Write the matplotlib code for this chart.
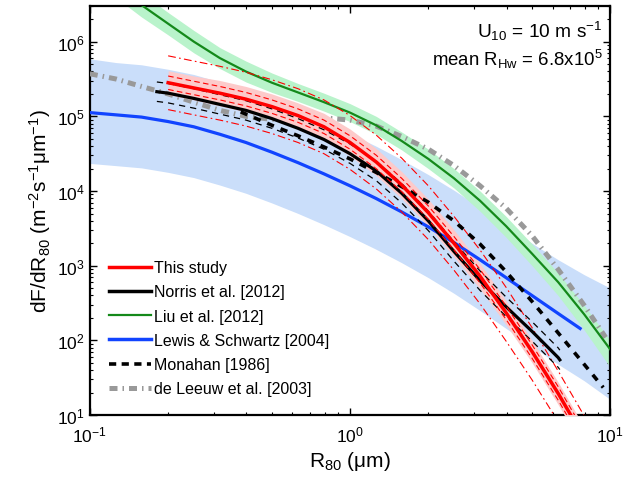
import numpy as np
import matplotlib
matplotlib.use("Agg")
import matplotlib.pyplot as plt
from matplotlib.lines import Line2D

plt.rcParams['font.family'] = ['Liberation Sans', 'DejaVu Sans']
plt.rcParams['mathtext.fontset'] = 'custom'
plt.rcParams['mathtext.rm'] = 'Liberation Sans'
plt.rcParams['mathtext.it'] = 'Liberation Sans:italic'
plt.rcParams['mathtext.default'] = 'regular'

# ---------------- data (values are log10 of dF/dR80, R80 in um) ----------------
# This study (red)
r_study = [0.2, 0.251, 0.316, 0.398, 0.501, 0.631, 0.794, 1.0, 1.26, 1.58, 2.0, 2.51, 3.16, 3.98, 5.01, 6.31, 7.94]
study = [5.45, 5.38, 5.31, 5.23, 5.13, 5.01, 4.86, 4.65, 4.39, 4.08, 3.71, 3.30, 2.86, 2.37, 1.85, 1.29, 0.69]
study_band_hi = [5.61, 5.54, 5.48, 5.40, 5.30, 5.18, 5.04, 4.83, 4.57, 4.26, 3.89, 3.48, 3.03, 2.53, 2.00, 1.44, 0.84]
study_band_lo = [5.29, 5.22, 5.14, 5.06, 4.96, 4.84, 4.69, 4.47, 4.21, 3.90, 3.53, 3.12, 2.69, 2.21, 1.70, 1.14, 0.54]
study_dash_hi = [5.54, 5.47, 5.40, 5.32, 5.22, 5.10, 4.95, 4.74, 4.48, 4.17, 3.80, 3.39, 2.95, 2.46, 1.94, 1.38, 0.78]
study_dash_lo = [5.36, 5.29, 5.22, 5.14, 5.04, 4.92, 4.77, 4.56, 4.30, 3.99, 3.62, 3.21, 2.77, 2.28, 1.76, 1.20, 0.60]
study_dd_hi = [5.81, 5.74, 5.67, 5.59, 5.49, 5.37, 5.22, 5.01, 4.75, 4.44, 4.07, 3.66, 3.21, 2.71, 2.17, 1.59, 0.99]
study_dd_lo = [5.09, 5.02, 4.95, 4.87, 4.77, 4.65, 4.50, 4.29, 4.03, 3.72, 3.35, 2.94, 2.49, 1.99, 1.47, 0.91, 0.31]

# Norris et al. [2012] (black)
r_norris = [0.181, 0.2, 0.251, 0.316, 0.398, 0.501, 0.631, 0.794, 1.0, 1.26, 1.58, 2.0, 2.51, 3.16, 3.98, 5.01, 6.31, 6.4]
norris = [5.33, 5.31, 5.24, 5.16, 5.08, 4.97, 4.84, 4.69, 4.50, 4.27, 3.97, 3.60, 3.19, 2.80, 2.45, 2.12, 1.77, 1.74]
norris_hi = [5.46, 5.44, 5.37, 5.29, 5.21, 5.10, 4.97, 4.82, 4.63, 4.40, 4.10, 3.73, 3.32, 2.93, 2.58, 2.25, 1.90, 1.87]
norris_lo = [5.20, 5.18, 5.11, 5.03, 4.95, 4.84, 4.71, 4.56, 4.37, 4.14, 3.84, 3.47, 3.06, 2.67, 2.32, 1.99, 1.64, 1.61]

# Liu et al. [2012] (green)
r_liu = [0.126, 0.158, 0.2, 0.251, 0.316, 0.398, 0.501, 0.631, 0.794, 1.0, 1.26, 1.58, 2.0, 2.51, 3.16, 3.98, 5.01, 6.31, 7.94, 10.0]
liu = [6.76, 6.49, 6.24, 6.00, 5.78, 5.60, 5.45, 5.32, 5.19, 5.05, 4.88, 4.67, 4.43, 4.17, 3.87, 3.53, 3.16, 2.78, 2.35, 1.88]
liu_hi = [6.93, 6.65, 6.39, 6.15, 5.92, 5.74, 5.58, 5.44, 5.31, 5.17, 5.00, 4.79, 4.56, 4.30, 4.00, 3.66, 3.29, 2.90, 2.47, 2.00]
liu_lo = [6.59, 6.33, 6.09, 5.85, 5.64, 5.46, 5.32, 5.20, 5.07, 4.93, 4.76, 4.55, 4.30, 4.04, 3.73, 3.38, 3.00, 2.60, 2.14, 1.64]

# Lewis & Schwartz [2004] (blue)
r_ls = [0.1, 0.126, 0.158, 0.2, 0.251, 0.316, 0.398, 0.501, 0.631, 0.794, 1.0, 1.26, 1.58, 2.0, 2.51, 3.16, 3.98, 5.01, 6.31, 7.66]
ls = [5.05, 5.02, 4.99, 4.93, 4.86, 4.76, 4.65, 4.52, 4.38, 4.23, 4.07, 3.90, 3.72, 3.52, 3.31, 3.08, 2.84, 2.60, 2.36, 2.16]
r_ls_band = [0.1, 0.126, 0.158, 0.2, 0.251, 0.316, 0.398, 0.501, 0.631, 0.794, 1.0, 1.26, 1.58, 2.0, 2.51, 3.16, 3.98, 5.01, 6.31, 7.94, 10.0]
ls_hi = [5.77, 5.72, 5.69, 5.63, 5.56, 5.46, 5.35, 5.22, 5.08, 4.93, 4.77, 4.60, 4.42, 4.22, 4.01, 3.78, 3.54, 3.30, 3.08, 2.88, 2.70]
ls_lo = [4.37, 4.34, 4.31, 4.25, 4.18, 4.08, 3.97, 3.84, 3.70, 3.55, 3.39, 3.22, 3.04, 2.84, 2.63, 2.40, 2.16, 1.92, 1.68, 1.46, 1.21]

# Monahan [1986] (black dashed)
r_mon = [0.38, 0.398, 0.501, 0.631, 0.794, 1.0, 1.26, 1.58, 2.0, 2.51, 3.16, 3.98, 5.01, 6.31, 7.94, 9.4]
mon = [5.06, 5.03, 4.88, 4.74, 4.59, 4.43, 4.25, 4.06, 3.85, 3.60, 3.29, 2.92, 2.52, 2.10, 1.68, 1.37]

# de Leeuw et al. [2003] (grey dash-dot)
r_dl = [0.1, 0.126, 0.158, 0.2, 0.251, 0.316, 0.398, 0.501, 0.631, 0.794, 1.0, 1.26, 1.58, 2.0, 2.51, 3.16, 3.98, 5.01, 6.31, 7.94, 9.6]
dl = [5.57, 5.50, 5.40, 5.30, 5.19, 5.08, 5.00, 4.96, 4.97, 4.98, 4.95, 4.87, 4.73, 4.56, 4.34, 4.07, 3.77, 3.40, 2.95, 2.47, 2.04]

labels = ['This study', 'Norris et al. [2012]', 'Liu et al. [2012]',
          'Lewis & Schwartz [2004]', 'Monahan [1986]', 'de Leeuw et al. [2003]']


def p(v):
    return 10.0 ** np.asarray(v)


fig = plt.figure(figsize=(6.37, 4.85), dpi=100)
ax = fig.add_axes([0.141, 0.142, 0.817, 0.844])

c_red = '#ff0000'
c_pink = '#fdcaca'
c_blue = '#1144ff'
c_lblue = '#cadefa'
c_green = '#14891a'
c_lgreen = '#b9f3cb'
c_grey = '#999999'
dd_grey = (1.6, 1.0, 0.3, 1.0)
dd_red = (7, 3, 1.5, 3)

ax.fill_between(r_ls_band, p(ls_lo), p(ls_hi), color=c_lblue, lw=0, zorder=1)
ax.fill_between(r_liu, p(liu_lo), p(liu_hi), color=c_lgreen, lw=0, zorder=2)
ax.plot(r_dl, p(dl), color=c_grey, lw=3.6, dashes=dd_grey, zorder=3)
ax.fill_between(r_study, p(study_band_lo), p(study_band_hi), color=c_pink, lw=0, zorder=4)

ax.plot(r_ls, p(ls), color=c_blue, lw=2.3, zorder=5)
ax.plot(r_liu, p(liu), color=c_green, lw=1.6, zorder=5)

ax.plot(r_study, p(study_dd_hi), color=c_red, lw=0.8, dashes=dd_red, zorder=6)
ax.plot(r_study, p(study_dd_lo), color=c_red, lw=0.8, dashes=dd_red, zorder=6)
ax.plot(r_norris, p(norris_hi), color='k', lw=0.9, dashes=(5, 4), zorder=6)
ax.plot(r_norris, p(norris_lo), color='k', lw=0.9, dashes=(5, 4), zorder=6)
ax.plot(r_mon, p(mon), color='k', lw=2.6, dashes=(2.0, 2.0), zorder=6)

ax.plot(r_norris, p(norris), color='k', lw=2.3, zorder=7)
ax.plot(r_study, p(study), color=c_red, lw=2.5, zorder=8)
ax.plot(r_study, p(study_dash_hi), color=c_red, lw=0.8, dashes=(5, 3), zorder=9)
ax.plot(r_study, p(study_dash_lo), color=c_red, lw=0.8, dashes=(5, 3), zorder=9)

ax.set_xscale('log')
ax.set_yscale('log')
ax.set_xlim(0.1, 10)
ax.set_ylim(10, 10 ** 6.48)

ax.tick_params(which='both', direction='in', top=True, right=True, labelsize=12.5)
ax.tick_params(which='major', length=5, width=1)
ax.tick_params(which='minor', length=2.5, width=0.8)
ax.tick_params(axis='x', pad=7)
for s in ax.spines.values():
    s.set_linewidth(1.6)

ax.set_xlabel('R$_{80}$ (μm)', fontsize=15, labelpad=3)
ax.set_ylabel('dF/dR$_{80}$ (m$^{-2}$s$^{-1}$μm$^{-1}$)', fontsize=15, labelpad=3)

ax.text(0.985, 0.968, 'U$_{10}$ = 10 m s$^{-1}$', transform=ax.transAxes,
        ha='right', va='top', fontsize=13.8)
ax.text(0.985, 0.900, 'mean R$_{Hw}$ = 6.8x10$^{5}$', transform=ax.transAxes,
        ha='right', va='top', fontsize=13.4)

handles = [
    Line2D([], [], color=c_red, lw=2.5),
    Line2D([], [], color='k', lw=2.5),
    Line2D([], [], color=c_green, lw=1.6),
    Line2D([], [], color=c_blue, lw=2.5),
    Line2D([], [], color='k', lw=2.6, dashes=(2.0, 1.5)),
    Line2D([], [], color=c_grey, lw=3.6, dashes=dd_grey),
]
ax.legend(handles, labels, loc='lower left', bbox_to_anchor=(0.025, 0.03),
          frameon=False, fontsize=11.5, handlelength=2.6, handletextpad=0.2,
          labelspacing=0.58, borderaxespad=0.0)

fig.savefig('out.png', dpi=100)
